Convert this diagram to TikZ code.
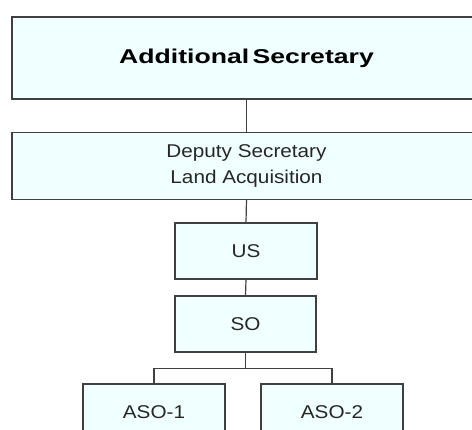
\documentclass[tikz,border=0pt]{standalone}
\usepackage{fontspec}
\setmainfont[FakeStretch=1.12]{Liberation Sans}
\newfontfamily\headfont[FakeStretch=1.33]{Liberation Sans}
\usepackage{tikz}
\usetikzlibrary{positioning}
\usepackage{xcolor}
\definecolor{boxfill}{RGB}{240,255,255}
\definecolor{boxline}{RGB}{64,64,64}

\tikzset{
    post/.style={draw=boxline, line width=1.2pt, fill=boxfill, inner sep=0pt,
        align=center, font=\fontsize{18.5}{26}\selectfont, text=black!85},
    link/.style={draw=boxline, line width=1.2pt}
}

\begin{document}
\begin{tikzpicture}[x=1pt, y=-1pt]
    \useasboundingbox (0,0) rectangle (472,430);

    % top level
    \node[post, minimum width=469pt, minimum height=82pt,
          font=\headfont\fontsize{20}{24}\selectfont\bfseries, text=black]
          (addl) at (246.5,58) {Additional\,Secretary};
    \node[post, minimum width=469pt, minimum height=66.5pt]
          (deputy) at (246.5,166) {Deputy Secretary\\Land Acquisition};

    % section
    \node[post, minimum width=142pt, minimum height=56pt] (us) at (246,251) {US};
    \node[post, minimum width=141pt, minimum height=56pt] (so) at (245.5,324) {SO};

    % assistants
    \node[post, minimum width=142pt, minimum height=56pt] (aso1) at (154,412) {ASO-1};
    \node[post, minimum width=142pt, minimum height=56pt] (aso2) at (332,412) {ASO-2};

    \draw[link] (addl.south) -- (deputy.north);
    \draw[link] (deputy.south) -- (us.north);
    \draw[link] (us.south) -- (so.north);
    \draw[link] (so.south) -- ++(0,16) -| (aso1.north);
    \draw[link] (so.south) -- ++(0,16) -| (aso2.north);
\end{tikzpicture}
\end{document}
